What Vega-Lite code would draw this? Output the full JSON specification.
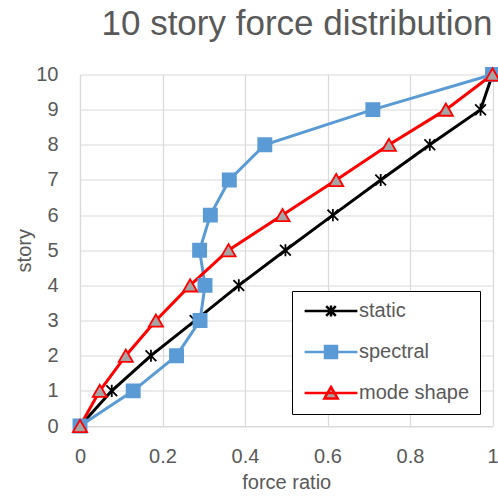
{
  "$schema": "https://vega.github.io/schema/vega-lite/v6.json",
  "width": 412.5,
  "height": 351.5,
  "autosize": {"type": "none"},
  "padding": {"left": 80, "top": 74.5, "right": 5, "bottom": 72},
  "background": "white",
  "title": {
    "text": "10 story force distribution",
    "font": "Liberation Sans",
    "fontSize": 35,
    "fontWeight": "normal",
    "color": "#595959",
    "anchor": "end",
    "frame": "group",
    "baseline": "alphabetic",
    "offset": 0,
    "dy": 5
  },
  "config": {
    "view": {"stroke": null},
    "axis": {
      "labelFont": "Liberation Sans",
      "labelFontSize": 20,
      "labelColor": "#595959",
      "titleFont": "Liberation Sans",
      "titleFontSize": 20,
      "titleFontWeight": "normal",
      "titleColor": "#595959",
      "gridColor": "#D9D9D9",
      "gridWidth": 1.2,
      "domainColor": "#D9D9D9",
      "domainWidth": 1.2,
      "ticks": false
    }
  },
  "data": {
    "values": [
      {"series": "static", "ratio": 0, "story": 0},
      {"series": "static", "ratio": 0.077, "story": 1},
      {"series": "static", "ratio": 0.172, "story": 2},
      {"series": "static", "ratio": 0.279, "story": 3},
      {"series": "static", "ratio": 0.385, "story": 4},
      {"series": "static", "ratio": 0.498, "story": 5},
      {"series": "static", "ratio": 0.613, "story": 6},
      {"series": "static", "ratio": 0.729, "story": 7},
      {"series": "static", "ratio": 0.848, "story": 8},
      {"series": "static", "ratio": 0.971, "story": 9},
      {"series": "static", "ratio": 1, "story": 10},
      {"series": "spectral", "ratio": 0, "story": 0},
      {"series": "spectral", "ratio": 0.129, "story": 1},
      {"series": "spectral", "ratio": 0.234, "story": 2},
      {"series": "spectral", "ratio": 0.291, "story": 3},
      {"series": "spectral", "ratio": 0.303, "story": 4},
      {"series": "spectral", "ratio": 0.29, "story": 5},
      {"series": "spectral", "ratio": 0.316, "story": 6},
      {"series": "spectral", "ratio": 0.362, "story": 7},
      {"series": "spectral", "ratio": 0.448, "story": 8},
      {"series": "spectral", "ratio": 0.71, "story": 9},
      {"series": "spectral", "ratio": 1, "story": 10},
      {"series": "mode shape", "ratio": 0, "story": 0},
      {"series": "mode shape", "ratio": 0.048, "story": 1},
      {"series": "mode shape", "ratio": 0.111, "story": 2},
      {"series": "mode shape", "ratio": 0.184, "story": 3},
      {"series": "mode shape", "ratio": 0.267, "story": 4},
      {"series": "mode shape", "ratio": 0.36, "story": 5},
      {"series": "mode shape", "ratio": 0.491, "story": 6},
      {"series": "mode shape", "ratio": 0.621, "story": 7},
      {"series": "mode shape", "ratio": 0.749, "story": 8},
      {"series": "mode shape", "ratio": 0.887, "story": 9},
      {"series": "mode shape", "ratio": 1, "story": 10}
    ]
  },
  "encoding": {
    "x": {
      "field": "ratio",
      "type": "quantitative",
      "title": "force ratio",
      "scale": {"domain": [0, 1], "nice": false},
      "axis": {"values": [0, 0.2, 0.4, 0.6, 0.8, 1], "format": ".1~f", "labelPadding": 20, "titlePadding": 6, "labelFlush": false}
    },
    "y": {
      "field": "story",
      "type": "quantitative",
      "title": "story",
      "scale": {"domain": [0, 10], "nice": false},
      "axis": {"values": [0, 1, 2, 3, 4, 5, 6, 7, 8, 9, 10], "labelPadding": 22, "titlePadding": 1, "labelFlush": false}
    }
  },
  "layer": [
    {
      "mark": {"type": "line", "strokeWidth": 3},
      "encoding": {
        "order": {"field": "story", "type": "quantitative"},
        "color": {
          "field": "series",
          "type": "nominal",
          "scale": {"domain": ["static", "spectral", "mode shape"], "range": ["#000000", "#5B9BD5", "#FF0000"]},
          "legend": {
            "orient": "none",
            "legendX": 212,
            "legendY": 216.5,
            "title": null,
            "strokeColor": "#000000",
            "fillColor": "#FFFFFF",
            "padding": 10,
            "labelFont": "Liberation Sans",
            "labelFontSize": 20,
            "labelColor": "#595959",
            "symbolSize": 144,
            "symbolStrokeWidth": 2.5,
            "symbolOffset": 19,
            "labelOffset": 18,
            "rowPadding": 19,
            "encode": {
              "symbols": {
                "update": {
                  "shape": {"signal": "datum.value === 'static' ? 'M-4.4,0L4.4,0M-0.8,-0.8L0.8,0.8M-0.8,0.8L0.8,-0.8M0,-0.9L0,0.9' : datum.value === 'spectral' ? 'M-4.4,0L4.4,0M-1,-1L1,-1L1,1L-1,1Z' : 'M-4.4,0L4.4,0M0,-1L1.1,0.9L-1.1,0.9Z'"},
                  "fill": {"signal": "datum.value === 'spectral' ? '#5B9BD5' : datum.value === 'mode shape' ? '#A5A5A5' : 'transparent'"}
                }
              }
            }
          }
        }
      }
    },
    {
      "transform": [{"filter": "datum.series === 'static'"}],
      "mark": {"type": "point", "shape": "M-0.8,-0.8L0.8,0.8M-0.8,0.8L0.8,-0.8M0,-0.9L0,0.9", "size": 180, "stroke": "#000000", "strokeWidth": 1.8, "fill": "transparent", "opacity": 1}
    },
    {
      "transform": [{"filter": "datum.series === 'spectral'"}],
      "mark": {"type": "point", "shape": "square", "size": 180, "stroke": "#5B9BD5", "strokeWidth": 1.5, "fill": "#5B9BD5", "opacity": 1}
    },
    {
      "transform": [{"filter": "datum.series === 'mode shape'"}],
      "mark": {"type": "point", "shape": "triangle-up", "size": 200, "stroke": "#FF0000", "strokeWidth": 1.8, "fill": "#A5A5A5", "opacity": 1}
    }
  ]
}
